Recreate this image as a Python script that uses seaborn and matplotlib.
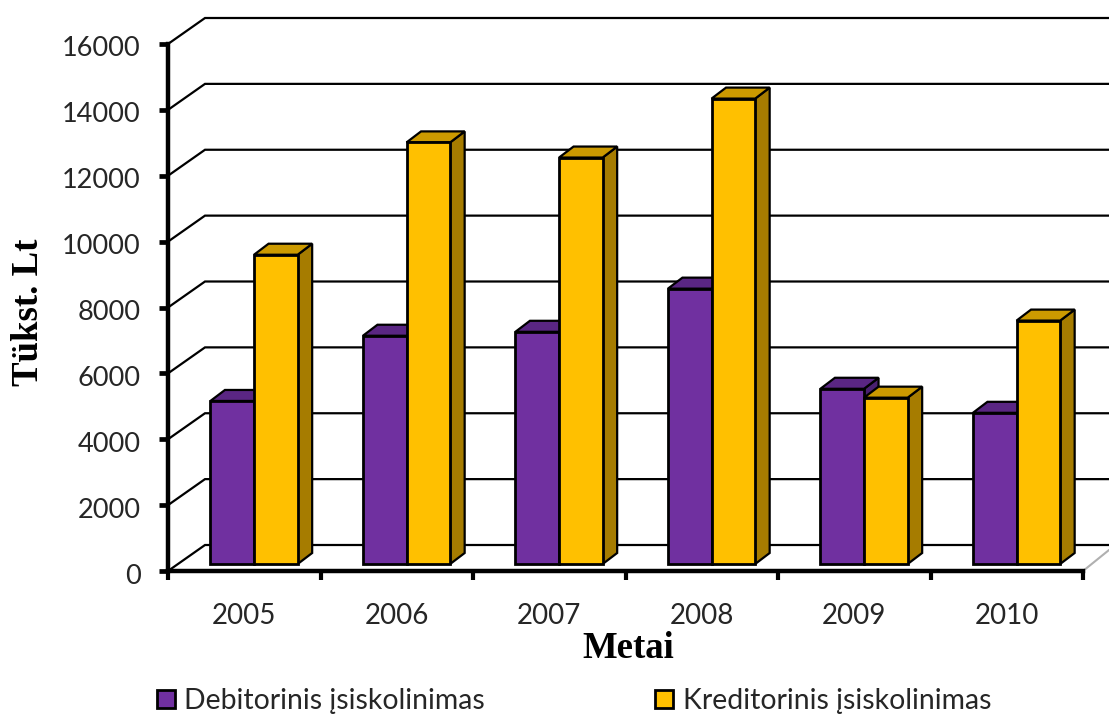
import matplotlib
matplotlib.use("Agg")
import matplotlib.pyplot as plt
from matplotlib.patches import Polygon
from matplotlib.transforms import ScaledTranslation
import pandas as pd
import seaborn as sns

years = ["2005", "2006", "2007", "2008", "2009", "2010"]
debitorinis = [4950, 6930, 7050, 8360, 5320, 4590]
kreditorinis = [9390, 12800, 12340, 14130, 5050, 7390]
series_names = ["Debitorinis įsiskolinimas", "Kreditorinis įsiskolinimas"]
y_ticks = [0, 2000, 4000, 6000, 8000, 10000, 12000, 14000, 16000]

front_colors = ["#7030A0", "#FFC000"]
top_colors = ["#5A2683", "#CC9A00"]
side_colors = ["#4A2070", "#A67C00"]

sns.set_theme(style="white")
plt.rcParams["font.family"] = ["Lato", "DejaVu Sans"]

fig = plt.figure(figsize=(11.09, 7.17), dpi=100)
ax = fig.add_axes([168 / 1109, (717 - 571) / 717, 915 / 1109, 527 / 717])

df = pd.DataFrame({
    "year": years * 2,
    "value": debitorinis + kreditorinis,
    "series": [series_names[0]] * len(years) + [series_names[1]] * len(years),
})
sns.barplot(data=df, x="year", y="value", hue="series", palette=front_colors,
            width=0.572, gap=0, edgecolor="black", linewidth=2,
            saturation=1, errorbar=None, ax=ax, zorder=5)

handles, labels = ax.get_legend_handles_labels()
ax.get_legend().remove()

ax.set_xlim(-0.5, 5.5)
ax.set_ylim(0, 16000)

# Unit sizes of the oblique projection
px_x = 6 / 915
px_y = 16000 / 527
wall_dx, wall_dy = 37 * px_x, 26 * px_y
bar_dx, bar_dy = 14.5 * px_x, 11 * px_y
plane_dx, plane_dy = 9.8 * px_x, 7 * px_y
right_end = -0.5 + (1109 - 168) * px_x

# Back wall grid, folded along the side wall
for v in y_ticks:
    ax.plot([-0.5, -0.5 + wall_dx, right_end], [v, v + wall_dy, v + wall_dy],
            color="black", lw=1.6, clip_on=False, zorder=1, solid_joinstyle="miter")
ax.plot([5.5, 5.5 + 26 * px_x], [0, 21 * px_y], color="#b0b0b0", lw=1.5,
        clip_on=False, zorder=1)

# Extruded side and top faces behind each front face
for s, container in enumerate(ax.containers):
    for bar in container:
        x0 = bar.get_x() + plane_dx
        w = bar.get_width()
        h = bar.get_height()
        bar.set_x(x0)
        bar.set_y(plane_dy)
        x1 = x0 + w
        base, top = plane_dy, plane_dy + h
        bar.set_clip_on(False)
        bar.set_zorder(5 + s * 3)
        side = Polygon([(x1, base), (x1 + bar_dx, base + bar_dy),
                        (x1 + bar_dx, top + bar_dy), (x1, top)], closed=True,
                       facecolor=side_colors[s], edgecolor="black", lw=1.6,
                       zorder=3 + s * 3, clip_on=False)
        cap = Polygon([(x0, top), (x0 + bar_dx, top + bar_dy),
                       (x1 + bar_dx, top + bar_dy), (x1, top)], closed=True,
                      facecolor=top_colors[s], edgecolor="black", lw=1.6,
                      zorder=4 + s * 3, clip_on=False)
        ax.add_patch(side)
        ax.add_patch(cap)

ax.set_xticks([-0.5 + i for i in range(7)], minor=False, labels=[""] * 7)
ax.set_xticks(range(6), labels=years, minor=True)
ax.set_yticks(y_ticks)
ax.tick_params(axis="x", which="major", direction="out", length=6.5, width=3,
               color="black", bottom=True)
ax.tick_params(axis="x", which="minor", length=0, pad=23, labelsize=20,
               labelcolor="#262626")
ax.tick_params(axis="y", direction="out", length=6.5, width=3.4, color="black",
               left=True, pad=13, labelsize=19.5, labelcolor="#262626")

# Value labels sit slightly below their ticks
nudge = ScaledTranslation(0, -2.5 / 100, fig.dpi_scale_trans)
for label in ax.get_yticklabels():
    label.set_transform(label.get_transform() + nudge)

for name in ("top", "right"):
    ax.spines[name].set_visible(False)
for name in ("left", "bottom"):
    ax.spines[name].set_color("black")
    ax.spines[name].set_linewidth(3.2)
    ax.spines[name].set_zorder(20)

ax.set_xlabel("")
ax.set_ylabel("")
label_font = dict(family="Liberation Serif", fontweight="bold", fontsize=26.5,
                  color="black")
fig.text(628 / 1109, 1 - 649 / 717, "Metai", ha="center", va="center", **label_font)
fig.text(28 / 1109, 1 - 312 / 717, "Tükst. Lt", ha="center", va="center",
         rotation=90, **label_font)

leg = fig.legend(handles, labels, ncol=2, loc="center left",
                 bbox_to_anchor=(157 / 1109, 1 - 701 / 717), frameon=False,
                 fontsize=20.4, handlelength=0.62, handleheight=0.62,
                 handletextpad=0.35, columnspacing=6.0, labelcolor="#262626",
                 borderpad=0, borderaxespad=0)
for h in leg.legend_handles:
    h.set_edgecolor("black")
    h.set_linewidth(2)

fig.savefig("out.png", dpi=100, facecolor="white")
